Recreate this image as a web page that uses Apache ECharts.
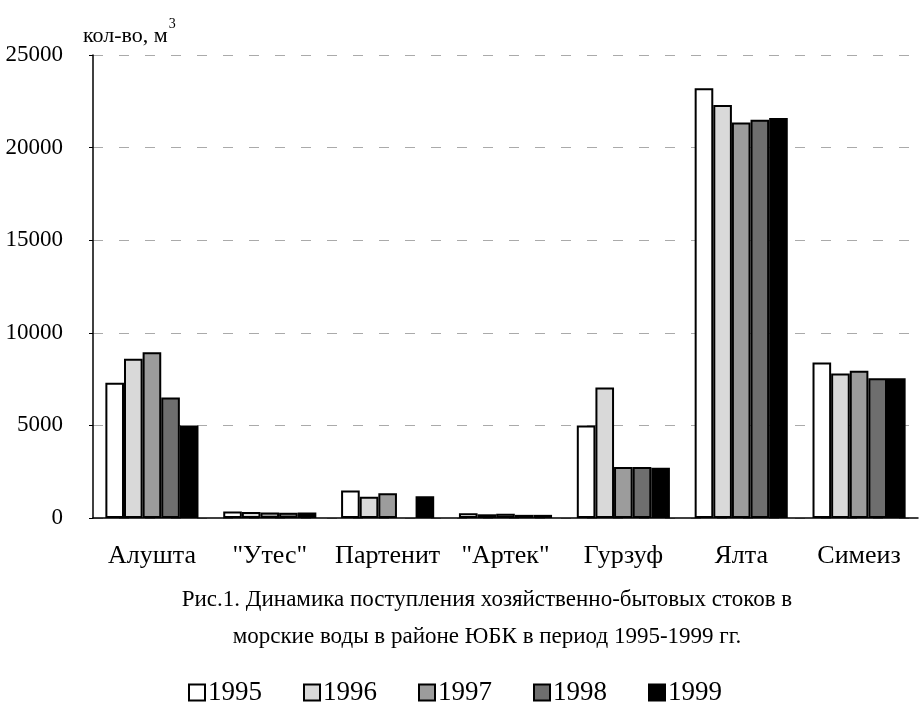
<!DOCTYPE html>
<html>
<head>
<meta charset="utf-8">
<script src="https://cdn.jsdelivr.net/npm/echarts@6/dist/echarts.min.js"></script>
<style>
  html, body { margin: 0; padding: 0; background: #fff; }
  #chart { width: 919px; height: 722px; }
</style>
</head>
<body>
<div id="chart"></div>
<script>
// Данные диаграммы
const categories = ['Алушта', '"Утес"', 'Партенит', '"Артек"', 'Гурзуф', 'Ялта', 'Симеиз'];
const years = ['1995', '1996', '1997', '1998', '1999'];
const v1995 = [7300, 350, 1480, 250, 5000, 23200, 8400];
const v1996 = [8600, 320, 1150, 200, 7050, 22300, 7800];
const v1997 = [8950, 300, 1330, 230, 2750, 21350, 7950];
const v1998 = [6500, 280, null, 170, 2750, 21500, 7550];
const v1999 = [5000, 300, 1180, 170, 2720, 21600, 7550];
const yTicks = [0, 5000, 10000, 15000, 20000, 25000];

const values = [v1995, v1996, v1997, v1998, v1999];
const fills = ['#ffffff', '#d9d9d9', '#9c9c9c', '#6e6e6e', '#000000'];
const serif = '"Liberation Serif", "DejaVu Serif", serif';

const myChart = echarts.init(document.getElementById('chart'));
const option = {
  backgroundColor: '#fff',
  animation: false,
  textStyle: { fontFamily: serif, color: '#000' },
  title: [
    {
      // подпись оси Y
      text: '{a|кол-во, м}{s|3}',
      left: 78,
      top: 12,
      textStyle: {
        fontWeight: 'normal',
        rich: {
          a: { fontFamily: serif, fontSize: 22, fontWeight: 'normal', color: '#000', verticalAlign: 'bottom', lineHeight: 30 },
          s: { fontFamily: serif, fontSize: 14, fontWeight: 'normal', color: '#000', verticalAlign: 'top', lineHeight: 30, padding: [0, 0, 12, 1] },
        },
      },
    },
    {
      text: 'Рис.1. Динамика поступления хозяйственно-бытовых стоков в\nморские воды в районе ЮБК в период 1995-1999 гг.',
      left: 482,
      top: 576,
      textAlign: 'center',
      textStyle: { fontFamily: serif, fontSize: 23, fontWeight: 'normal', color: '#000', lineHeight: 37 },
    },
  ],
  legend: {
    data: years,
    left: 183,
    top: 674,
    itemWidth: 16,
    itemHeight: 16,
    itemGap: 41,
    icon: 'rect',
    textStyle: { fontFamily: serif, fontSize: 27, color: '#000', padding: [0, 0, 0, -2] },
  },
  grid: { left: 93, right: 1, top: 55, bottom: 204, containLabel: false },
  xAxis: {
    type: 'category',
    data: categories,
    axisLine: { lineStyle: { color: '#000', width: 1.5 } },
    axisTick: { show: false },
    axisLabel: { fontFamily: serif, fontSize: 26, color: '#000', margin: 25, interval: 0 },
  },
  yAxis: {
    type: 'value',
    min: 0,
    max: 25000,
    interval: 5000,
    axisLine: { show: true, lineStyle: { color: '#000', width: 1.5 } },
    axisTick: { show: true, length: 4, lineStyle: { color: '#000' } },
    axisLabel: {
      fontFamily: serif, fontSize: 23, color: '#000', margin: 30,
      formatter: (v) => (yTicks.includes(v) ? String(v) : ''),
    },
    splitLine: { show: true, lineStyle: { color: '#aaa', type: [10, 16], width: 1 } },
  },
  series: years.map((y, i) => ({
    name: y,
    type: 'bar',
    data: values[i],
    barGap: '0%',
    barCategoryGap: '21%',
    itemStyle: { color: fills[i], borderColor: '#000', borderWidth: 2 },
  })),
};
myChart.setOption(option);
</script>
</body>
</html>
